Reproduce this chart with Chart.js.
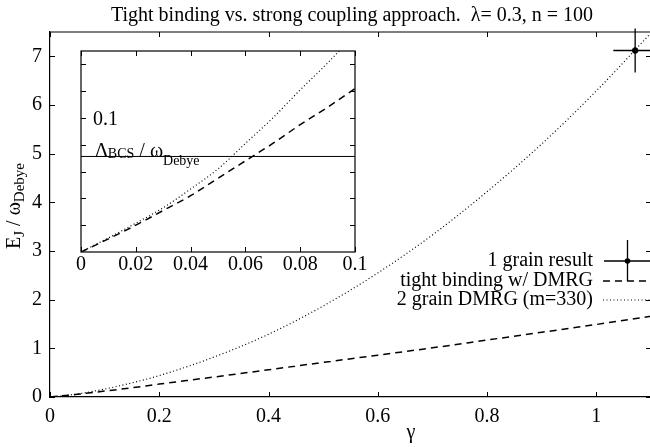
<!DOCTYPE html>
<html>
<head>
<meta charset="utf-8">
<script src="https://cdn.jsdelivr.net/npm/chart.js@4.4.1/dist/chart.umd.min.js"></script>
<style>
  body { margin: 0; background: #fff; overflow: hidden; }
  #wrap { position: relative; width: 650px; height: 447px; overflow: hidden; background: #fff; }
  #wrap canvas { position: absolute; left: 0; top: 0; }
</style>
</head>
<body>
<div id="wrap">
  <canvas id="main" width="656" height="447"></canvas>
  <canvas id="inset" width="656" height="447"></canvas>
</div>
<script>
// ------------------ Data ------------------
const gammaMain = [0, 0.05, 0.1, 0.15, 0.2, 0.3, 0.4, 0.5, 0.6, 0.7, 0.8, 0.9, 1.0, 1.1];
const tightMain = [0, 0.055, 0.122, 0.19, 0.265, 0.41, 0.56, 0.71, 0.86, 1.01, 1.17, 1.33, 1.49, 1.66];
const dmrgMain  = [0, 0.062, 0.163, 0.29, 0.44, 0.82, 1.29, 1.87, 2.55, 3.33, 4.22, 5.2, 6.29, 7.48];

const gammaInset = [0, 0.01, 0.02, 0.03, 0.04, 0.05, 0.06, 0.07, 0.08, 0.09, 0.1];
const tightInset = [0, 0.0098, 0.020, 0.031, 0.042, 0.055, 0.068, 0.081, 0.095, 0.108, 0.122];
const dmrgInset  = [0, 0.0105, 0.0215, 0.033, 0.047, 0.062, 0.081, 0.100, 0.121, 0.141, 0.163];

// 1 grain result with error bars
const grainGamma = [1.071];
const grainE = [7.12];
const grainGammaErr = [0.04];
const grainEErr = [0.45];

const deltaBCS = 0.0713; // Delta_BCS / omega_Debye

const xTicksMain = [0, 0.2, 0.4, 0.6, 0.8, 1];
const yTicksMain = [0, 1, 2, 3, 4, 5, 6, 7];
const xTicksInset = [0, 0.02, 0.04, 0.06, 0.08, 0.1];
const yTicksInset = [0.02, 0.04, 0.06, 0.08, 0.1, 0.12, 0.14];

const legendLabels = ['1 grain result', 'tight binding w/ DMRG', '2 grain DMRG (m=330)'];
const titleText = 'Tight binding vs. strong coupling approach.  \u03bb= 0.3, n = 100';

// ------------------ helpers ------------------
const FAM = '"Liberation Serif", "Times New Roman", serif';
const fnt = s => s + 'px ' + FAM;
const fmt = v => String(+(+v).toFixed(3));
const pts = (xs, ys) => xs.map((x, i) => ({ x: x, y: ys[i] }));

// parts: [text, size, dy]
function richText(ctx, parts, x, y, align) {
  let w = 0;
  parts.forEach(p => { ctx.font = fnt(p[1]); w += ctx.measureText(p[0]).width; });
  let cx = align === 'center' ? x - w / 2 : x;
  ctx.textAlign = 'left';
  ctx.textBaseline = 'alphabetic';
  parts.forEach(p => {
    ctx.font = fnt(p[1]);
    ctx.fillText(p[0], cx, y + (p[2] || 0));
    cx += ctx.measureText(p[0]).width;
  });
}

function inwardTicks(ctx, a, xs, ys, len) {
  ctx.beginPath();
  xs.ticks.forEach(t => {
    const px = Math.round(xs.getPixelForValue(t.value)) + 0.5;
    ctx.moveTo(px, a.bottom); ctx.lineTo(px, a.bottom - len);
    ctx.moveTo(px, a.top); ctx.lineTo(px, a.top + len);
  });
  ys.ticks.forEach(t => {
    const py = Math.round(ys.getPixelForValue(t.value)) + 0.5;
    ctx.moveTo(a.left, py); ctx.lineTo(a.left + len, py);
    ctx.moveTo(a.right, py); ctx.lineTo(a.right - len, py);
  });
  ctx.stroke();
}

// ------------------ Main chart ------------------
const mainDecor = {
  id: 'mainDecor',
  afterDraw(chart) {
    const { ctx, chartArea: a } = chart;
    const x = chart.scales.x, y = chart.scales.y;
    ctx.save();
    ctx.strokeStyle = '#000';
    ctx.fillStyle = '#000';

    // frame top / right
    ctx.lineWidth = 1.2;
    ctx.beginPath();
    ctx.moveTo(a.left, a.top); ctx.lineTo(a.right, a.top); ctx.lineTo(a.right, a.bottom);
    ctx.stroke();
    ctx.lineWidth = 1;
    inwardTicks(ctx, a, x, y, 5);

    // title
    ctx.font = fnt(20);
    ctx.textAlign = 'center';
    ctx.textBaseline = 'alphabetic';
    ctx.fillText(titleText, 352, 21);

    // x label
    ctx.fillText('\u03b3', 411, 438);

    // y label
    ctx.save();
    ctx.translate(20, 206);
    ctx.rotate(-Math.PI / 2);
    richText(ctx, [['E', 20, 0], ['J', 15, 4], [' / ', 20, 0], ['\u03c9', 20, 0], ['Debye', 15, 4]], 0, 0, 'center');
    ctx.restore();

    // error bars of the 1 grain result
    ctx.lineWidth = 1.3;
    ctx.beginPath();
    grainGamma.forEach((g, i) => {
      const px = x.getPixelForValue(g), py = y.getPixelForValue(grainE[i]);
      const x0 = x.getPixelForValue(g - grainGammaErr[i]), x1 = x.getPixelForValue(g + grainGammaErr[i]);
      const y0 = y.getPixelForValue(grainE[i] - grainEErr[i]), y1 = y.getPixelForValue(grainE[i] + grainEErr[i]);
      ctx.moveTo(x0, py); ctx.lineTo(x1, py);
      ctx.moveTo(px, y0); ctx.lineTo(px, y1);
    });
    ctx.stroke();

    // legend
    const rows = [261, 281, 300];
    ctx.font = fnt(20);
    ctx.textAlign = 'right';
    legendLabels.forEach((t, i) => ctx.fillText(t, 593, rows[i] + 5));
    ctx.lineWidth = 1.3;
    ctx.beginPath();
    ctx.moveTo(604, rows[0]); ctx.lineTo(652, rows[0]);
    ctx.moveTo(627.5, rows[0] - 21); ctx.lineTo(627.5, rows[0] + 20);
    ctx.stroke();
    ctx.beginPath(); ctx.arc(627.5, rows[0], 2.8, 0, Math.PI * 2); ctx.fill();
    ctx.setLineDash([7, 5]);
    ctx.beginPath(); ctx.moveTo(603, rows[1]); ctx.lineTo(656, rows[1]); ctx.stroke();
    ctx.lineWidth = 1;
    ctx.setLineDash([1, 2.5]);
    ctx.beginPath(); ctx.moveTo(603, rows[2]); ctx.lineTo(656, rows[2]); ctx.stroke();
    ctx.restore();
  }
};

const tickFont = { family: FAM, size: 20 };

new Chart(document.getElementById('main'), {
  type: 'line',
  data: {
    datasets: [
      {
        label: legendLabels[1],
        data: pts(gammaMain, tightMain),
        borderColor: '#000',
        borderWidth: 1.5,
        borderDash: [7, 5],
        pointRadius: 0,
        cubicInterpolationMode: 'monotone',
        fill: false
      },
      {
        label: legendLabels[2],
        data: pts(gammaMain, dmrgMain),
        borderColor: '#000',
        borderWidth: 1.2,
        borderDash: [1, 2.5],
        pointRadius: 0,
        cubicInterpolationMode: 'monotone',
        fill: false
      },
      {
        type: 'scatter',
        label: legendLabels[0],
        data: pts(grainGamma, grainE),
        backgroundColor: '#000',
        borderColor: '#000',
        pointRadius: 2.8,
        clip: false
      }
    ]
  },
  options: {
    responsive: false,
    animation: false,
    layout: { padding: { top: 32, right: 3, left: 0, bottom: 0 } },
    plugins: { legend: { display: false }, tooltip: { enabled: false } },
    scales: {
      x: {
        type: 'linear', min: 0, max: 1.1,
        afterBuildTicks: s => { s.ticks = xTicksMain.map(v => ({ value: v })); },
        afterFit: s => { s.height = 50; },
        ticks: { color: '#000', font: tickFont, padding: 8, maxRotation: 0, autoSkip: false, callback: fmt },
        grid: { display: false, drawTicks: false },
        border: { color: '#000', width: 1.2 }
      },
      y: {
        type: 'linear', min: 0, max: 7.5,
        afterBuildTicks: s => { s.ticks = yTicksMain.map(v => ({ value: v })); },
        afterFit: s => { s.width = 50; },
        ticks: { color: '#000', font: tickFont, padding: 8, autoSkip: false, callback: fmt },
        grid: { display: false, drawTicks: false },
        border: { color: '#000', width: 1.2 }
      }
    }
  },
  plugins: [mainDecor]
});

// ------------------ Inset ------------------
const insetDecor = {
  id: 'insetDecor',
  beforeDraw(chart) {
    const { ctx, chartArea: a } = chart;
    ctx.save();
    ctx.fillStyle = '#fff';
    ctx.fillRect(a.left, a.top, a.right - a.left, a.bottom - a.top);
    ctx.restore();
  },
  afterDraw(chart) {
    const { ctx, chartArea: a } = chart;
    const x = chart.scales.x, y = chart.scales.y;
    ctx.save();
    ctx.strokeStyle = '#000';
    ctx.fillStyle = '#000';
    ctx.lineWidth = 1.2;
    ctx.strokeRect(a.left, a.top, a.right - a.left, a.bottom - a.top);
    ctx.lineWidth = 1;
    inwardTicks(ctx, a, x, y, 5);

    ctx.font = fnt(20);
    ctx.textAlign = 'left';
    ctx.textBaseline = 'alphabetic';
    ctx.fillText('0.1', 93, 125);
    richText(ctx, [['\u0394', 20, 0], ['BCS', 14, 1], [' / ', 20, 0], ['\u03c9', 20, 0], ['Debye', 14, 8]], 95, 157, 'left');
    ctx.restore();
  }
};

new Chart(document.getElementById('inset'), {
  type: 'line',
  data: {
    datasets: [
      {
        data: pts(gammaInset, tightInset),
        borderColor: '#000',
        borderWidth: 1.5,
        borderDash: [7, 5],
        pointRadius: 0,
        cubicInterpolationMode: 'monotone'
      },
      {
        data: pts(gammaInset, dmrgInset),
        borderColor: '#000',
        borderWidth: 1.2,
        borderDash: [1, 2.5],
        pointRadius: 0,
        cubicInterpolationMode: 'monotone'
      },
      {
        data: pts([0, 0.1], [deltaBCS, deltaBCS]),
        borderColor: '#000',
        borderWidth: 1,
        pointRadius: 0
      }
    ]
  },
  options: {
    responsive: false,
    animation: false,
    layout: { padding: { top: 51, left: 81, right: 301, bottom: 165 } },
    plugins: { legend: { display: false }, tooltip: { enabled: false } },
    scales: {
      x: {
        type: 'linear', min: 0, max: 0.1,
        afterBuildTicks: s => { s.ticks = xTicksInset.map(v => ({ value: v })); },
        afterFit: s => { s.height = 30; },
        ticks: { color: '#000', font: tickFont, padding: 1, maxRotation: 0, autoSkip: false, callback: fmt },
        grid: { display: false, drawTicks: false },
        border: { display: false }
      },
      y: {
        type: 'linear', min: 0, max: 0.15,
        afterBuildTicks: s => { s.ticks = yTicksInset.map(v => ({ value: v })); },
        afterFit: s => { s.width = 0; },
        ticks: { display: false },
        grid: { display: false, drawTicks: false },
        border: { display: false }
      }
    }
  },
  plugins: [insetDecor]
});
</script>
</body>
</html>
